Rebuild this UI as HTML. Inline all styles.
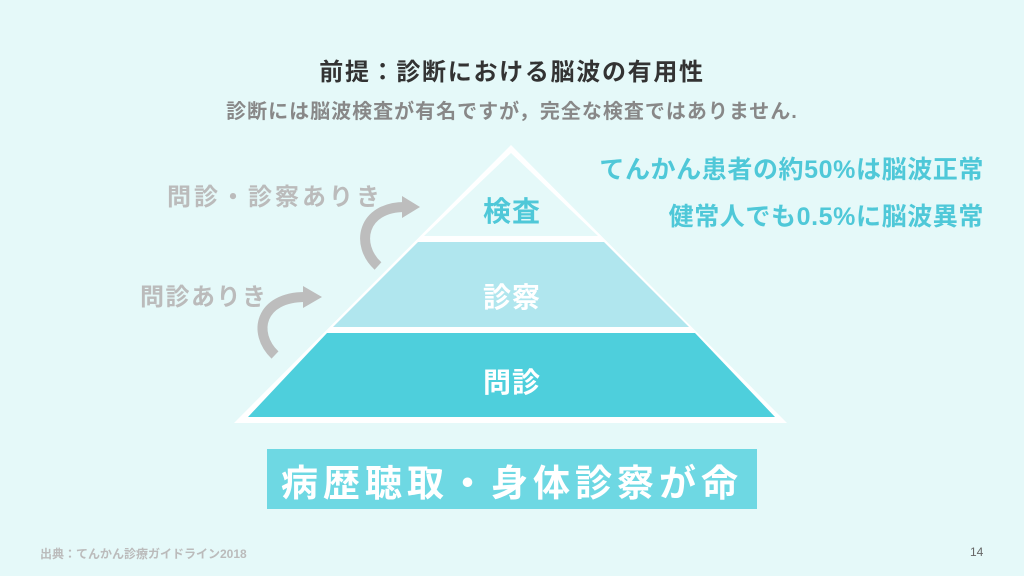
<!DOCTYPE html>
<html><head><meta charset="utf-8"><style>
body{margin:0;width:1024px;height:576px;background:#e5f9f9;position:relative;overflow:hidden;font-family:"Liberation Sans","Noto Sans CJK JP",sans-serif;}
.t{position:absolute;white-space:nowrap;font-weight:bold;}
</style></head><body>
<div class="t" style="left:0;width:1024px;text-align:center;top:52px;font-size:24px;color:#333;letter-spacing:1.7px;">前提：診断における脳波の有用性</div>
<div class="t" style="left:0;width:1024px;text-align:center;top:95px;font-size:20px;color:#888;letter-spacing:1px;">診断には脳波検査が有名ですが，完全な検査ではありません.</div>
<div class="t" style="right:40px;top:150px;font-size:25px;color:#4fc8d8;letter-spacing:0.6px;">てんかん患者の約50%は脳波正常</div>
<div class="t" style="right:40px;top:197px;font-size:25px;color:#4fc8d8;letter-spacing:0.6px;">健常人でも0.5%に脳波異常</div>
<div class="t" style="left:167px;top:177px;font-size:24px;color:#bbb;letter-spacing:3px;">問診・診察ありき</div>
<div class="t" style="left:140px;top:277px;font-size:24px;color:#bbb;letter-spacing:1.5px;">問診ありき</div>
<svg width="1024" height="576" style="position:absolute;left:0;top:0">
<polygon points="234,423 511,145 787,423" fill="#fff"/>
<polygon points="511,153 598,236 424,236" fill="#e5f9f9"/>
<polygon points="418,242 604,242 689,327 333,327" fill="#b0e6ee"/>
<polygon points="327,333 695,333 775,417 248,417" fill="#4ecfdc"/>
<g fill="none" stroke="#bdbdbd" stroke-width="10">
<path d="M378,266 C355,245 362,207 405,207"/>
<path d="M275,355 C252,333 260,297 305,297"/>
</g>
<polygon points="402,196 420,207 402,218" fill="#bdbdbd"/>
<polygon points="303,286 322,297 303,308" fill="#bdbdbd"/>
</svg>
<div class="t" style="left:0;width:1024px;text-align:center;top:190px;font-size:28px;color:#4fc8d8;letter-spacing:1px;">検査</div>
<div class="t" style="left:0;width:1024px;text-align:center;top:276px;font-size:28px;color:#fff;letter-spacing:1px;">診察</div>
<div class="t" style="left:0;width:1024px;text-align:center;top:361px;font-size:28px;color:#fff;letter-spacing:1px;">問診</div>
<div style="position:absolute;left:267px;top:449px;width:490px;height:60px;background:#6ed8e3;"></div>
<div class="t" style="left:267px;width:490px;text-align:center;top:453px;font-size:37px;color:#fff;letter-spacing:5px;">病歴聴取・身体診察が命</div>
<div class="t" style="left:40px;top:545px;font-size:12px;color:#bbb;">出典：てんかん診療ガイドライン2018</div>
<div class="t" style="left:970px;top:545px;font-size:12px;color:#666;font-weight:normal;">14</div>
</body></html>
